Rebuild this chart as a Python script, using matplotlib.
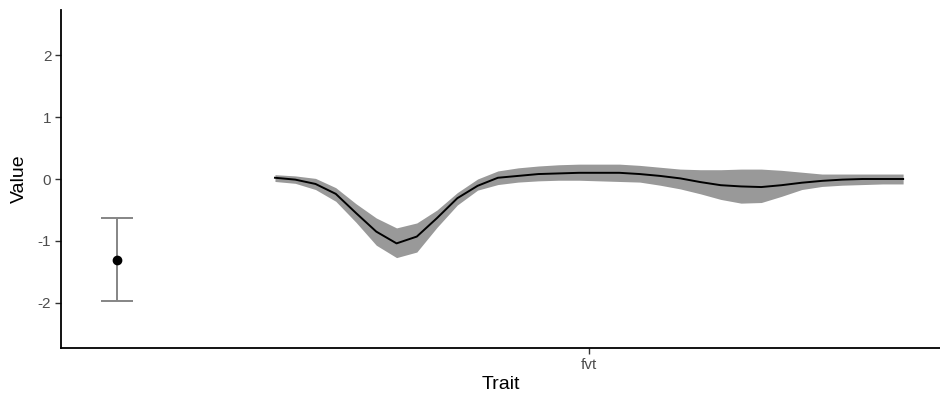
import numpy as np
import matplotlib.pyplot as plt

plt.rcParams['font.family'] = ['Liberation Sans', 'DejaVu Sans']

# 曲线数据（32个点）
curve_mean = [0.02, -0.01, -0.08, -0.24, -0.55, -0.85, -1.04, -0.93,
              -0.63, -0.31, -0.11, 0.02, 0.05, 0.08, 0.09, 0.10,
              0.10, 0.10, 0.08, 0.05, 0.01, -0.05, -0.10, -0.12,
              -0.13, -0.10, -0.06, -0.03, -0.01, 0.00, 0.00, 0.00]
curve_upper = [0.07, 0.05, 0.01, -0.14, -0.40, -0.63, -0.79, -0.71,
               -0.50, -0.22, 0.00, 0.13, 0.18, 0.21, 0.23, 0.24,
               0.24, 0.24, 0.22, 0.19, 0.16, 0.15, 0.15, 0.16,
               0.16, 0.14, 0.11, 0.08, 0.08, 0.08, 0.08, 0.08]
curve_lower = [-0.04, -0.07, -0.17, -0.36, -0.70, -1.07, -1.27, -1.18,
               -0.78, -0.42, -0.18, -0.09, -0.05, -0.03, -0.02, -0.02,
               -0.03, -0.04, -0.05, -0.10, -0.16, -0.24, -0.33, -0.39,
               -0.38, -0.28, -0.17, -0.12, -0.10, -0.09, -0.08, -0.08]

# 单点及误差线
point_value = -1.31
point_low = -1.97
point_high = -0.63

x_tick_label = 'fvt'

x_curve = np.arange(len(curve_mean))
x_point = -7.8
x_tick = (len(curve_mean) - 1) / 2

fig = plt.figure(figsize=(9.4, 3.98), dpi=100)
ax = fig.add_axes([61 / 940, 50 / 398, 879 / 940, 338 / 398])

ax.fill_between(x_curve, curve_lower, curve_upper, color='#999999', linewidth=0)
ax.plot(x_curve, curve_mean, color='black', linewidth=1.4)

ax.errorbar([x_point], [point_value],
            yerr=[[point_value - point_low], [point_high - point_value]],
            fmt='none', ecolor='#858585', elinewidth=1.4, capsize=11.2, capthick=1.4)
ax.plot([x_point], [point_value], 'o', color='black', markersize=6)

ax.set_xlim(-10.56, 32.82)
ax.set_ylim(-2.73, 2.73)
ax.set_yticks([-2, -1, 0, 1, 2])
ax.set_yticklabels(['-2', '-1', '0', '1', '2'])
ax.set_xticks([x_tick])
ax.set_xticklabels([x_tick_label])

for side in ['top', 'right']:
    ax.spines[side].set_visible(False)
for side in ['left', 'bottom']:
    ax.spines[side].set_linewidth(1.3)
    ax.spines[side].set_color('black')

ax.tick_params(axis='both', length=4, width=1.0, color='#333333',
               labelcolor='#4d4d4d', labelsize=11, pad=3)

ax.set_xlabel('Trait', fontsize=14, color='black', labelpad=3)
ax.set_ylabel('Value', fontsize=14, color='black', labelpad=7)

plt.savefig('out.png', dpi=100)
plt.close()
